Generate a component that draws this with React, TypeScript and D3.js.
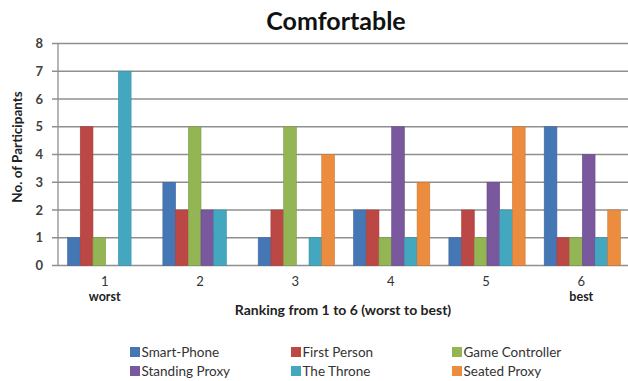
import React from "react";
import * as d3 from "d3";

const categories = ["1", "2", "3", "4", "5", "6"];
const subLabels = ["worst", "", "", "", "", "best"];
const seriesNames = ["Smart-Phone", "First Person", "Game Controller", "Standing Proxy", "The Throne", "Seated Proxy"];
const smartPhone = [1, 3, 1, 2, 1, 5];
const firstPerson = [5, 2, 2, 2, 2, 1];
const gameController = [1, 5, 5, 1, 1, 1];
const standingProxy = [0, 2, 0, 5, 3, 4];
const theThrone = [7, 2, 1, 1, 2, 1];
const seatedProxy = [0, 0, 4, 3, 5, 2];
const seriesColors = ["#4677B5", "#BC4845", "#93B554", "#79589E", "#44A7C0", "#EC8C3E"];
const yTicks = [0, 1, 2, 3, 4, 5, 6, 7, 8];

const seriesValues = [smartPhone, firstPerson, gameController, standingProxy, theThrone, seatedProxy];

const W = 628;
const H = 381;
const FONT = "Lato, 'Open Sans', sans-serif";

export default function App() {
  const x0 = d3.scaleBand<string>().domain(categories).range([58, 630]).paddingInner(0.2).paddingOuter(0.1);
  const x1 = d3.scaleBand<string>().domain(seriesNames).range([0, x0.bandwidth()]);
  const y = d3.scaleLinear().domain([0, 8]).range([265.5, 43.5]);

  return (
    <svg width={W} height={H} style={{ position: "absolute", left: 0, top: 0, background: "#fff" }}>
      <text x={336} y={30} textAnchor="middle" fontFamily={FONT} fontWeight="bold" fontSize={25} fill="#111">
        Comfortable
      </text>
      {yTicks.map((t) => (
        <g key={t}>
          <line x1={52} x2={630} y1={y(t)} y2={y(t)} stroke="#8f8f8f" strokeWidth={1.3} />
          <text x={43} y={y(t) + 4.5} textAnchor="end" fontFamily={FONT} fontWeight="bold" fontSize={13} fill="#404040">
            {t}
          </text>
        </g>
      ))}
      <line x1={58} x2={58} y1={y(8)} y2={y(0)} stroke="#8f8f8f" strokeWidth={1.3} />
      {categories.map((c, ci) => (
        <g key={c}>
          {seriesNames.map((s, si) => {
            const v = seriesValues[si][ci];
            if (!v) return null;
            return (
              <rect
                key={s}
                x={(x0(c) as number) + (x1(s) as number)}
                y={y(v)}
                width={x1.bandwidth()}
                height={y(0) - y(v)}
                fill={seriesColors[si]}
                stroke={d3.color(seriesColors[si])!.darker(0.4).toString()}
                strokeWidth={0.6}
              />
            );
          })}
          <text
            x={(x0(c) as number) + x0.bandwidth() / 2 - 1}
            y={286}
            textAnchor="middle"
            fontFamily={FONT}
            fontSize={13}
            fill="#333"
          >
            {c}
          </text>
          {subLabels[ci] && (
            <text
              x={(x0(c) as number) + x0.bandwidth() / 2 - 1}
              y={300.5}
              textAnchor="middle"
              fontFamily={FONT}
              fontWeight="bold"
              fontSize={12.5}
              fill="#222"
            >
              {subLabels[ci]}
            </text>
          )}
        </g>
      ))}
      <text x={343} y={315} textAnchor="middle" fontFamily={FONT} fontWeight="bold" fontSize={14} fill="#222">
        Ranking from 1 to 6 (worst to best)
      </text>
      <text
        transform={`translate(22,147) rotate(-90)`}
        textAnchor="middle"
        fontFamily={FONT}
        fontWeight="bold"
        fontSize={13.5}
        fill="#222"
      >
        No. of Participants
      </text>
      {seriesNames.map((s, i) => {
        const col = i % 3;
        const row = Math.floor(i / 3);
        const lx = [130, 291, 452][col];
        const ly = [352, 371][row];
        return (
          <g key={s}>
            <rect x={lx} y={ly - 5} width={10} height={10} fill={seriesColors[i]} />
            <text x={lx + 11.5} y={ly + 4.5} fontFamily={FONT} fontSize={13.5} fill="#333">
              {s}
            </text>
          </g>
        );
      })}
    </svg>
  );
}
